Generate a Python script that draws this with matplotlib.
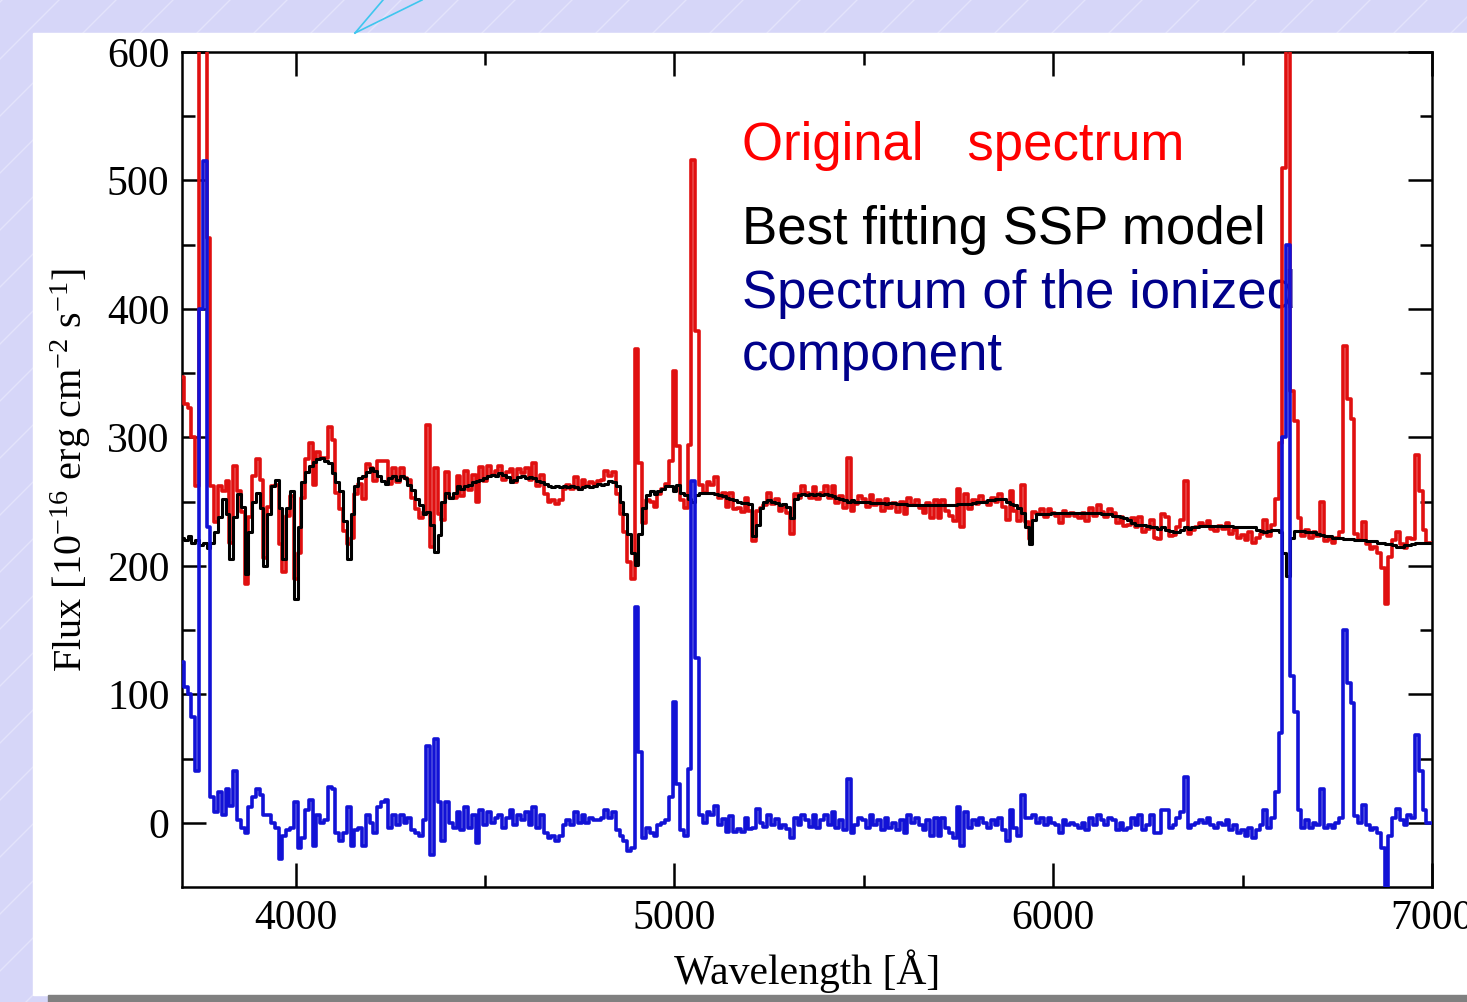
import numpy as np
import matplotlib.pyplot as plt
from matplotlib.patches import Rectangle

# wavelength grid of the spectra (Angstrom), 10 A steps
wavelength = np.arange(3700, 7001, 10)

# observed spectrum, one row per 100 A (3700, 3800, ...)
original = [
    347, 326, 323, 300, 262, 640, 720, 455, 262, 234,
    262, 258, 266, 218, 278, 258, 242, 186, 238, 270,
    283, 267, 206, 246, 262, 263, 217, 195, 239, 254,
    190, 210, 253, 283, 296, 263, 289, 284, 284, 308,
    298, 257, 244, 227, 217, 222, 256, 264, 252, 279,
    276, 266, 282, 282, 282, 264, 276, 265, 276, 268,
    267, 253, 244, 237, 242, 310, 215, 276, 240, 236,
    273, 253, 253, 270, 254, 274, 259, 271, 250, 277,
    266, 278, 271, 274, 278, 267, 273, 275, 265, 275,
    272, 276, 267, 280, 262, 271, 256, 250, 251, 248,
    251, 260, 263, 260, 269, 260, 267, 262, 265, 264,
    266, 267, 274, 270, 273, 256, 240, 226, 203, 190,
    369, 280, 233, 251, 250, 246, 256, 260, 264, 282,
    352, 293, 251, 245, 294, 516, 383, 263, 257, 265,
    263, 269, 253, 257, 246, 257, 244, 245, 242, 253,
    243, 219, 243, 245, 247, 257, 248, 252, 243, 246,
    241, 225, 256, 253, 262, 257, 253, 261, 252, 257,
    262, 253, 262, 249, 254, 245, 284, 243, 248, 254,
    252, 246, 255, 247, 251, 243, 252, 245, 249, 242,
    250, 240, 253, 247, 251, 245, 241, 249, 237, 251,
    237, 251, 243, 239, 235, 260, 230, 256, 244, 251,
    248, 254, 250, 247, 253, 250, 256, 246, 236, 258,
    243, 235, 263, 234, 221, 242, 240, 244, 238, 244,
    241, 239, 233, 243, 239, 241, 239, 237, 241, 235,
    245, 239, 247, 242, 238, 244, 241, 233, 238, 231,
    232, 237, 230, 238, 226, 229, 236, 222, 221, 240,
    238, 223, 224, 230, 236, 266, 225, 228, 230, 233,
    231, 235, 229, 227, 231, 229, 233, 225, 228, 222,
    224, 220, 226, 218, 222, 225, 236, 223, 232, 252,
    296, 510, 700, 336, 313, 237, 223, 228, 222, 226,
    223, 250, 219, 221, 218, 222, 226, 371, 330, 314,
    225, 220, 234, 217, 213, 215, 210, 198, 170, 207,
    220, 226, 217, 214, 222, 221, 286, 258, 228, 218,
    218,
]

# best fitting SSP model
ssp_model = [
    222, 220, 223, 218, 220, 216, 218, 214, 218, 226,
    238, 252, 240, 205, 238, 256, 246, 194, 226, 250,
    257, 245, 200, 240, 262, 267, 245, 205, 245, 258,
    174, 230, 265, 273, 278, 281, 283, 284, 282, 280,
    272, 265, 258, 235, 205, 240, 262, 268, 270, 273,
    276, 274, 270, 266, 264, 268, 270, 267, 270, 268,
    263, 259, 252, 247, 240, 242, 232, 211, 224, 250,
    257, 253, 257, 262, 260, 262, 263, 265, 266, 267,
    268, 270, 271, 270, 272, 271, 269, 265, 267, 269,
    270, 268, 269, 268, 266, 265, 264, 262, 261, 262,
    261, 262, 261, 262, 261, 260, 261, 262, 261, 262,
    264, 263, 264, 266, 265, 262, 250, 240, 225, 210,
    201, 225, 245, 255, 258, 256, 258, 260, 262, 262,
    258, 263, 257, 255, 252, 250, 255, 257, 257, 257,
    257, 256, 255, 254, 253, 252, 251, 250, 249, 249,
    248, 223, 232, 245, 250, 251, 250, 249, 247, 248,
    246, 237, 252, 255, 256, 255, 256, 255, 256, 255,
    256, 255, 254, 253, 252, 251, 250, 251, 250, 250,
    250, 250, 249, 249, 249, 249, 248, 249, 249, 248,
    248, 248, 247, 247, 247, 247, 247, 247, 247, 247,
    247, 247, 247, 247, 247, 248, 248, 248, 248, 249,
    250, 250, 250, 251, 251, 252, 252, 252, 250, 248,
    247, 245, 241, 230, 217, 236, 240, 240, 240, 240,
    241, 241, 241, 241, 241, 241, 241, 241, 241, 241,
    241, 241, 241, 240, 240, 240, 239, 239, 238, 237,
    236, 233, 232, 232, 232, 231, 230, 230, 229, 230,
    228, 227, 226, 226, 228, 230, 229, 230, 230, 231,
    231, 231, 231, 231, 231, 231, 231, 231, 230, 230,
    230, 230, 230, 230, 228, 227, 226, 227, 228, 228,
    226, 210, 192, 222, 227, 227, 227, 226, 226, 226,
    225, 224, 223, 223, 222, 222, 222, 221, 221, 221,
    220, 220, 220, 219, 219, 219, 218, 218, 217, 217,
    216, 215, 215, 216, 216, 217, 218, 218, 218, 218,
    218,
]

# spectrum of the ionized component
ionized = [
    125, 106, 100, 82, 40, 400, 515, 230, 20, 8,
    24, 6, 26, 13, 40, 2, -4, -8, 12, 20,
    26, 22, 6, 6, 0, -4, -28, -10, -6, -4,
    16, -20, -12, 10, 18, -18, 6, 0, 2, 28,
    26, -8, -14, -8, 12, -18, -6, -4, -18, 6,
    0, -8, 12, 16, 18, -4, 6, -2, 6, 0,
    4, -6, -8, -10, 2, 60, -25, 65, 16, -14,
    16, 0, -4, 8, -6, 12, -4, 6, -16, 10,
    -2, 8, 0, 4, 6, -4, 4, 10, -2, 6,
    2, 8, -2, 12, -4, 6, -8, -12, -10, -14,
    -10, -2, 2, -2, 8, 0, 6, 0, 4, 2,
    2, 4, 10, 4, 8, -6, -10, -14, -22, -20,
    168, 55, -12, -4, -8, -10, -2, 0, 2, 20,
    94, 30, -6, -10, 42, 266, 128, 6, 0, 8,
    6, 13, -2, 3, -7, 5, -7, -5, -7, 4,
    -5, -4, 11, 0, -3, 6, -2, 3, -4, -2,
    -5, -12, 4, -2, 6, 2, -3, 6, -4, 2,
    6, -2, 8, -4, 2, -6, 34, -8, -2, 4,
    2, -4, 6, -2, 2, -6, 4, -4, 0, -6,
    2, -8, 6, 0, 4, -2, -6, 2, -10, 4,
    -10, 4, -4, -8, -12, 12, -18, 8, -4, 2,
    -2, 4, 0, -4, 2, -2, 4, -6, -14, 10,
    -4, -10, 22, 4, 4, 6, 0, 4, -2, 4,
    0, -2, -8, 2, -2, 0, -2, -4, 0, -6,
    4, -2, 6, 2, -2, 4, 2, -6, 0, -6,
    -4, 4, -2, 6, -6, -2, 6, -8, -8, 10,
    10, -4, -2, 4, 8, 36, -4, -2, 0, 2,
    0, 4, -2, -4, 0, -2, 2, -6, -2, -8,
    -6, -10, -4, -12, -6, -2, 10, -4, 4, 24,
    70, 300, 450, 114, 86, 10, -4, 2, -4, 0,
    -2, 26, -4, -2, -4, 0, 4, 150, 109, 93,
    5, 0, 14, -2, -6, -4, -8, -20, -60, -10,
    4, 11, 2, -2, 6, 4, 68, 40, 10, 0,
    0,
]

plt.rcParams['font.family'] = 'Liberation Serif'
plt.rcParams['mathtext.fontset'] = 'custom'
plt.rcParams['mathtext.rm'] = 'Liberation Serif'
plt.rcParams['mathtext.it'] = 'Liberation Serif:italic'

W, H = 1467, 1002
fig = plt.figure(figsize=(W / 100, H / 100), dpi=100)

# slide background (pixel coordinates)
bg = fig.add_axes([0, 0, 1, 1], zorder=0)
bg.add_patch(Rectangle((0, 0), W, H, color='#d6d6f8', zorder=1))
for x0 in range(-1000, W, 57):
    bg.plot([x0, x0 + H], [H, 0], color='#e3e3fb', lw=1, zorder=2)
bg.add_patch(Rectangle((33, 33), W - 33, 962, color='white', zorder=3))
bg.add_patch(Rectangle((48, 995), W - 48, 7, color='#808080', zorder=3))
bg.plot([355, 383], [33, 0], color='#3fc6ee', lw=1.2, zorder=4)
bg.plot([355, 422], [33, 0], color='#3fc6ee', lw=1.2, zorder=4)
bg.set_xlim(0, W)
bg.set_ylim(H, 0)
bg.axis('off')

# spectrum panel
ax = fig.add_axes([182 / W, 115 / H, 1250 / W, 835 / H], zorder=2)
ax.patch.set_alpha(0)
ax.plot(wavelength, original, color='#e01010', lw=2.6, drawstyle='steps-mid', zorder=3)
ax.plot(wavelength, ssp_model, color='black', lw=2.2, drawstyle='steps-mid', zorder=4)
ax.plot(wavelength, ionized, color='#1212d6', lw=2.6, drawstyle='steps-mid', zorder=5)

ax.set_xlim(3700, 7000)
ax.set_ylim(-50, 600)
ax.set_xticks([4000, 5000, 6000, 7000])
ax.set_xticks([4500, 5500, 6500], minor=True)
ax.set_yticks(range(0, 601, 100))
ax.set_yticks(range(50, 600, 100), minor=True)
ax.tick_params(which='both', direction='in', top=True, right=True, width=1.8, labelsize=30)
ax.tick_params(which='major', length=17, pad=9)
ax.tick_params(which='minor', length=9)
for s in ax.spines.values():
    s.set_linewidth(1.8)

ax.set_xlabel('Wavelength [Å]', fontsize=30, labelpad=8)
ax.set_ylabel(r'Flux [10$^{-16}$ erg cm$^{-2}$ s$^{-1}$]', fontsize=29, labelpad=10)

# legend-like labels
labels = [('Original   spectrum', '#ff0000', 160),
          ('Best fitting SSP model', 'black', 244),
          ('Spectrum of the ionized', '#00008b', 308),
          ('component', '#00008b', 370)]
for txt, col, base in labels:
    ax.text(742 / W, 1 - base / H, txt, color=col, fontsize=38, family='Liberation Sans',
            va='baseline', ha='left', transform=fig.transFigure, zorder=1)

fig.savefig('out.png', dpi=100)
